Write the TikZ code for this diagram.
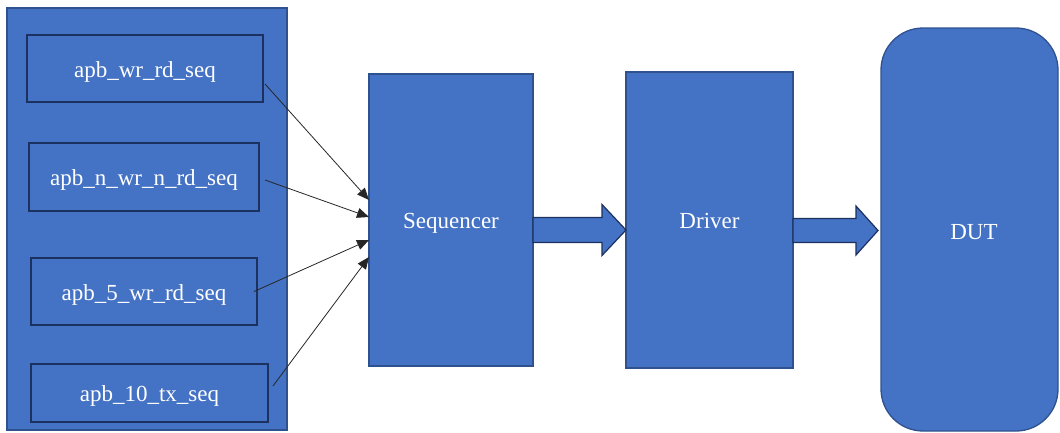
\documentclass[tikz,border=0pt]{standalone}
\usepackage{fontspec}
\setmainfont{Liberation Serif}
\usetikzlibrary{calc,arrows.meta}
\definecolor{bfill}{HTML}{4472C4}
\definecolor{bline}{HTML}{2F528F}
\definecolor{dline}{HTML}{1C3160}
\begin{document}
\begin{tikzpicture}[x=1pt,y=-1pt,
  blk/.style={draw=bline,fill=bfill,line width=1.3pt,inner sep=0pt,outer sep=0pt,anchor=north west,
    text=white,font=\fontsize{23}{27}\selectfont,text height=17pt,text depth=0pt},
  seqbox/.style={blk,draw=dline,line width=1.8pt},
  thin/.style={draw=black!85,line width=0.8pt,-{Triangle[length=12pt,width=10pt]}},
  blockarrow/.style={draw=dline,fill=bfill,line width=1.2pt,line join=miter}]
\useasboundingbox (0,0) rectangle (1060,432);
% container
\node[blk,minimum width=280pt,minimum height=422pt] (cont) at (7,8) {};
% sequence boxes
\node[seqbox,minimum width=236pt,minimum height=67pt] (b1) at (27,35) {apb\_wr\_rd\_seq};
\node[seqbox,minimum width=230pt,minimum height=68pt] (b2) at (29,143) {apb\_n\_wr\_n\_rd\_seq};
\node[seqbox,minimum width=226pt,minimum height=67pt] (b3) at (31,258) {apb\_5\_wr\_rd\_seq};
\node[seqbox,minimum width=237pt,minimum height=58pt] (b4) at (31,364) {apb\_10\_tx\_seq};
% main blocks
\node[blk,minimum width=164pt,minimum height=292pt] (seq) at (369,74) {Sequencer};
\node[blk,minimum width=167pt,minimum height=296pt] (drv) at (626,72) {Driver};
\node[blk,minimum width=177pt,minimum height=403pt,rounded corners=42pt] (dut) at (881,28) {};
\node[text=white,font=\fontsize{23}{27}\selectfont,text height=17pt,text depth=0pt,inner sep=0pt] (dutlbl) at (974,231) {DUT};
% thin arrows
\draw[thin] ([xshift=2pt,yshift=-15.5pt]b1.east) -- ([yshift=20pt]seq.west);
\draw[thin] ([xshift=6pt,yshift=-3pt]b2.east) -- ([yshift=3pt]seq.west);
\draw[thin] ([xshift=-3pt]b3.east) -- ([yshift=-20pt]seq.west);
\draw[thin] ([xshift=5pt,yshift=7pt]b4.east) -- ([yshift=-37pt]seq.west);
% block arrows
\coordinate (a1s) at ([yshift=-10pt]seq.east);
\coordinate (a1t) at ([yshift=-10pt]drv.west);
\draw[blockarrow] ($(a1s)+(0,-12.5)$) -- ($(a1t)+(-24,-12.5)$) -- ($(a1t)+(-24,-25.5)$) -- (a1t)
  -- ($(a1t)+(-24,25.5)$) -- ($(a1t)+(-24,12.5)$) -- ($(a1s)+(0,12.5)$) -- cycle;
\coordinate (a2s) at ([yshift=-10.5pt]drv.east);
\coordinate (a2t) at ([xshift=-3pt,yshift=-1pt]dut.west);
\draw[blockarrow] ($(a2s)+(0,-12)$) -- ($(a2t)+(-22,-12)$) -- ($(a2t)+(-22,-24.5)$) -- (a2t)
  -- ($(a2t)+(-22,24.5)$) -- ($(a2t)+(-22,12)$) -- ($(a2s)+(0,12)$) -- cycle;
\end{tikzpicture}
\end{document}
